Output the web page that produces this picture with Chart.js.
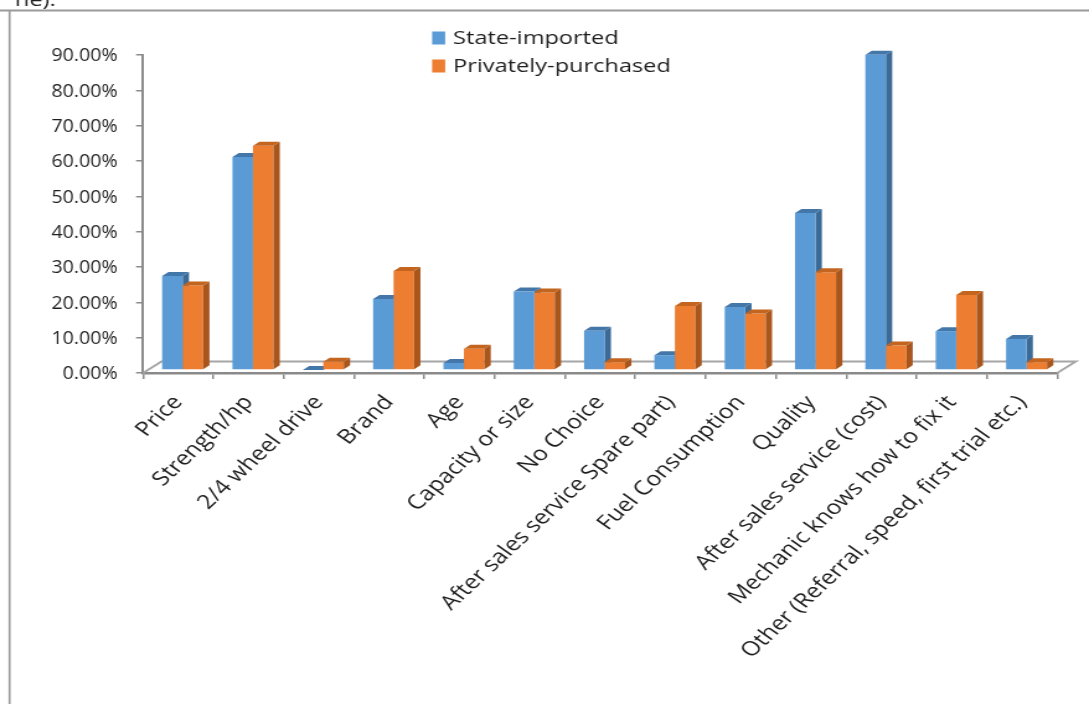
<!DOCTYPE html>
<html>
<head>
<meta charset="utf-8">
<script src="https://cdn.jsdelivr.net/npm/chart.js@4.4.1/dist/chart.umd.min.js"></script>
<style>
  html, body { margin: 0; padding: 0; background: #fff; overflow: hidden; }
  #wrap { width: 878px; height: 704px; transform: scaleX(1.2403); transform-origin: 0 0; }
</style>
</head>
<body>
<div id="wrap"><canvas id="c" width="878" height="704"></canvas></div>
<script>
// Reasons for choosing a vehicle, by way the vehicle was acquired (percent of respondents)
const categories = [
  'Price', 'Strength/hp', '2/4 wheel drive', 'Brand', 'Age', 'Capacity or size',
  'No Choice', 'After sales service Spare part)', 'Fuel Consumption', 'Quality',
  'After sales service (cost)', 'Mechanic knows how to fix it',
  'Other (Referral, speed, first trial etc.)'
];
const seriesNames = ['State-imported', 'Privately-purchased'];
const stateImported      = [26.6, 60.3, 0.0, 20.1, 2.0, 22.2, 11.1, 4.2, 17.8, 44.4, 89.2, 11.0, 8.8];
const privatelyPurchased = [23.9, 63.5, 2.3, 28.0, 6.0, 21.9, 2.2, 18.1, 16.0, 27.7, 6.9, 21.2, 2.2];
const yTickValues = [0, 10, 20, 30, 40, 50, 60, 70, 80, 90];

// front / side / top shades of each series
const frontColors = ['#5B9BD5', '#ED7D31'];
const sideColors  = ['#3C6A97', '#A9561D'];
const topColors   = ['#4477A9', '#C4651F'];

const FAMILY = '"Open Sans", Lato, sans-serif';
const TICK_FONT = { family: FAMILY, size: 19 };
const CAT_FONT = { family: FAMILY, size: 20 };
const AXIS_GREY = '#8a8a8a';
const TEXT = '#1e1e1e';
const NUM_CONDENSE = 0.83;                 // narrower figures on the value axis
const BAR_SHIFT = { dx: 3.6, dy: -3 };     // bars stand a little inside the floor
const BAR_DEPTH = { dx: 5.1, dy: -4 };     // depth of each column
const FLOOR_DEPTH = { dx: 14.9, dy: -11.5 };

function barFaces(ctx, chart, di) {
  const meta = chart.getDatasetMeta(di);
  meta.data.forEach(bar => {
    const p = bar.getProps(['x', 'y', 'base', 'width'], true);
    const l = p.x - p.width / 2, r = p.x + p.width / 2;
    const t = Math.min(p.y, p.base), b = Math.max(p.y, p.base);
    const dx = BAR_DEPTH.dx, dy = BAR_DEPTH.dy;
    ctx.fillStyle = sideColors[di];
    ctx.beginPath();
    ctx.moveTo(r, t); ctx.lineTo(r + dx, t + dy); ctx.lineTo(r + dx, b + dy); ctx.lineTo(r, b);
    ctx.closePath(); ctx.fill();
    ctx.fillStyle = topColors[di];
    ctx.beginPath();
    ctx.moveTo(l, t); ctx.lineTo(l + dx, t + dy); ctx.lineTo(r + dx, t + dy); ctx.lineTo(r, t);
    ctx.closePath(); ctx.fill();
  });
}

const decor = {
  id: 'decor',
  beforeDraw(chart) {
    const ctx = chart.ctx;
    ctx.save();
    // text line of the surrounding page, cut off by the frame
    ctx.fillStyle = TEXT;
    ctx.font = '19px ' + FAMILY;
    ctx.textBaseline = 'alphabetic';
    ctx.fillText('ne).', 12, 6);
    // chart frame
    ctx.strokeStyle = '#9a9a9a';
    ctx.lineWidth = 2;
    ctx.beginPath();
    ctx.moveTo(0, 10.5); ctx.lineTo(chart.width, 10.5);
    ctx.stroke();
    ctx.lineWidth = 1.7;
    ctx.beginPath();
    ctx.moveTo(7.7, 10.5); ctx.lineTo(7.7, chart.height);
    ctx.stroke();
    ctx.restore();
  },
  beforeDatasetsDraw(chart) {
    const ctx = chart.ctx;
    const a = chart.chartArea;
    const fx = FLOOR_DEPTH.dx, fy = FLOOR_DEPTH.dy;
    // floor outline
    ctx.save();
    ctx.strokeStyle = '#a6a6a6';
    ctx.lineWidth = 2;
    ctx.beginPath();
    ctx.moveTo(a.left, a.bottom); ctx.lineTo(a.left + fx, a.bottom + fy);
    ctx.lineTo(a.right + fx, a.bottom + fy); ctx.lineTo(a.right, a.bottom);
    ctx.stroke();
    ctx.restore();
    // columns: shift inside the floor, then the first series' hidden faces
    ctx.save();
    ctx.translate(BAR_SHIFT.dx, BAR_SHIFT.dy);
    barFaces(ctx, chart, 0);
  },
  afterDatasetsDraw(chart) {
    const ctx = chart.ctx;
    barFaces(ctx, chart, 1);
    ctx.restore();
  },
  afterDraw(chart) {
    const ctx = chart.ctx;
    ctx.save();
    // value-axis labels, set in condensed figures
    const ys = chart.scales.y;
    const xRight = ys.right - ys.options.grid.tickLength - ys.options.ticks.padding;
    ctx.font = TICK_FONT.size + 'px ' + FAMILY;
    ctx.fillStyle = TEXT;
    ctx.textAlign = 'right';
    ctx.textBaseline = 'middle';
    ys.ticks.forEach((t, i) => {
      const label = ys.options.ticks.callback(t.value, i, ys.ticks);
      ctx.save();
      ctx.translate(xRight, ys.getPixelForValue(t.value) + 1);
      ctx.scale(NUM_CONDENSE, 1);
      ctx.fillText(label, 0, 0);
      ctx.restore();
    });
    // legend
    ctx.textAlign = 'left';
    ctx.font = '19px ' + FAMILY;
    chart.data.datasets.forEach((ds, i) => {
      const cy = 38 + i * 28;
      ctx.fillStyle = ds.backgroundColor;
      ctx.fillRect(348.4, cy - 6.5, 10.5, 13);
      ctx.fillStyle = TEXT;
      ctx.fillText(ds.label, 365.3, cy + 0.5);
    });
    ctx.restore();
  }
};

new Chart(document.getElementById('c'), {
  type: 'bar',
  data: {
    labels: categories,
    datasets: [
      { label: seriesNames[0], data: stateImported, backgroundColor: frontColors[0], borderWidth: 0 },
      { label: seriesNames[1], data: privatelyPurchased, backgroundColor: frontColors[1], borderWidth: 0 }
    ]
  },
  options: {
    responsive: false,
    animation: false,
    devicePixelRatio: 1,
    layout: { padding: { left: 0, top: 55, right: 25.6, bottom: 0 } },
    datasets: { bar: { categoryPercentage: 0.583, barPercentage: 1 } },
    plugins: { legend: { display: false }, tooltip: { enabled: false } },
    scales: {
      x: {
        grid: { offset: true, drawOnChartArea: false, drawTicks: true, tickLength: 6, color: AXIS_GREY, lineWidth: 1.5 },
        border: { display: true, color: AXIS_GREY, width: 2.5 },
        ticks: { autoSkip: false, minRotation: 49, maxRotation: 49, padding: 12, color: TEXT, font: CAT_FONT },
        afterFit: s => { s.height = 331; }
      },
      y: {
        min: 0, max: 90,
        afterBuildTicks: s => { s.ticks = yTickValues.map(v => ({ value: v })); },
        // labels are drawn by the decor plugin
        ticks: { padding: 15, color: 'rgba(0,0,0,0)', font: TICK_FONT, callback: v => v.toFixed(2) + '%' },
        grid: { drawOnChartArea: false, drawTicks: true, tickLength: 5.6, color: AXIS_GREY, lineWidth: 1.5 },
        border: { display: true, color: AXIS_GREY, width: 2 },
        afterFit: s => { s.width = 115.3; }
      }
    }
  },
  plugins: [decor]
});
</script>
</body>
</html>
